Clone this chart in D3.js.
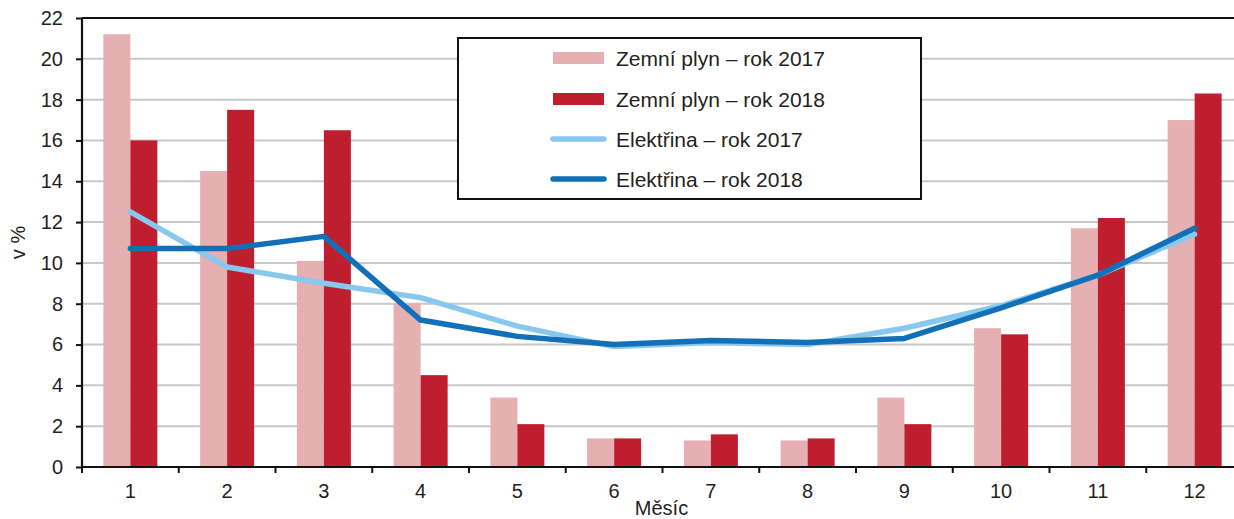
<!DOCTYPE html>
<html><head><meta charset="utf-8">
<script src="https://cdn.jsdelivr.net/npm/d3@7"></script>
<style>
html,body{margin:0;padding:0;background:#fff;}
svg{display:block;font-family:"Liberation Sans",Arial,sans-serif;}
</style></head>
<body>
<svg id="chart" width="1234" height="519"></svg>
<script>
const months = ["1","2","3","4","5","6","7","8","9","10","11","12"];
const gas2017 = [21.2,14.5,10.1,8.0,3.4,1.4,1.3,1.3,3.4,6.8,11.7,17.0];
const gas2018 = [16.0,17.5,16.5,4.5,2.1,1.4,1.6,1.4,2.1,6.5,12.2,18.3];
const elec2017 = [12.5,9.8,9.0,8.3,6.9,5.9,6.1,6.0,6.8,7.9,9.4,11.4];
const elec2018 = [10.7,10.7,11.3,7.2,6.4,6.0,6.2,6.1,6.3,7.8,9.4,11.7];
const yTicks = [0,2,4,6,8,10,12,14,16,18,20,22];
const legendLabels = ["Zemní plyn – rok 2017","Zemní plyn – rok 2018","Elektřina – rok 2017","Elektřina – rok 2018"];
const xTitle = "Měsíc";
const yTitle = "v %";

const colors = {g17:"#e6afb2", g18:"#be1e2d", e17:"#88c8ee", e18:"#1170b8"};
const svg = d3.select("#chart");
const L = 82, R = 1243, T = 18, B = 467;

const x0 = d3.scaleBand().domain(months).range([L, R]).padding(0);
const groupW = 54;
const x1 = d3.scaleBand().domain(["g17","g18"]).range([0, groupW]).padding(0);
const y = d3.scaleLinear().domain([0, 22]).range([B, T]);

// gridlines
svg.append("g").selectAll("line").data(yTicks.filter(d => d > 0 && d < 22)).join("line")
  .attr("x1", L).attr("x2", 1234).attr("y1", d => y(d)).attr("y2", d => y(d))
  .attr("stroke", "#c8c8c8").attr("stroke-width", 2);

// bars
const gx = m => x0(m) + (x0.bandwidth() - groupW) / 2;
const barData = [];
months.forEach((m, i) => {
  barData.push({m, s:"g17", v: gas2017[i]});
  barData.push({m, s:"g18", v: gas2018[i]});
});
svg.append("g").selectAll("rect").data(barData).join("rect")
  .attr("x", d => gx(d.m) + x1(d.s))
  .attr("width", x1.bandwidth())
  .attr("y", d => y(d.v))
  .attr("height", d => y(0) - y(d.v))
  .attr("fill", d => colors[d.s]);

// lines
const line = d3.line().x((d, i) => x0(months[i]) + x0.bandwidth() / 2).y(d => y(d));
svg.append("path").datum(elec2017).attr("d", line).attr("fill", "none")
  .attr("stroke", colors.e17).attr("stroke-width", 5.5).attr("stroke-linecap", "round").attr("stroke-linejoin", "round");
svg.append("path").datum(elec2018).attr("d", line).attr("fill", "none")
  .attr("stroke", colors.e18).attr("stroke-width", 5.5).attr("stroke-linecap", "round").attr("stroke-linejoin", "round");

// top border
svg.append("line").attr("x1", L).attr("x2", 1234).attr("y1", T).attr("y2", T)
  .attr("stroke", "#111").attr("stroke-width", 2);

// y axis
const yAxis = svg.append("g").attr("transform", `translate(${L},0)`)
  .call(d3.axisLeft(y).tickValues(yTicks).tickSize(6).tickPadding(10).tickFormat(d3.format("d")));
yAxis.select(".domain").attr("stroke", "#111").attr("stroke-width", 2.2).attr("d", `M0,${T}V${B}`);
yAxis.selectAll(".tick line").attr("stroke", "#111").attr("stroke-width", 2);
yAxis.selectAll("text").attr("font-size", 20).attr("fill", "#231f20").attr("font-family", "Liberation Sans, Arial, sans-serif").attr("dx", -3);

// x axis
const xAxis = svg.append("g").attr("transform", `translate(0,${B})`)
  .call(d3.axisBottom(x0).tickSize(0).tickPadding(17));
xAxis.select(".domain").attr("stroke", "#111").attr("stroke-width", 2.2).attr("d", `M${L},0H1234`);
xAxis.selectAll("text").attr("font-size", 20).attr("fill", "#231f20").attr("font-family", "Liberation Sans, Arial, sans-serif");
// boundary ticks
svg.append("g").selectAll("line").data(months).join("line")
  .attr("x1", d => x0(d)).attr("x2", d => x0(d))
  .attr("y1", B).attr("y2", B + 6).attr("stroke", "#111").attr("stroke-width", 2);

// axis titles
svg.append("text").attr("x", (L + R) / 2 - 1).attr("y", 515).attr("text-anchor", "middle")
  .attr("font-size", 20).attr("fill", "#231f20").text(xTitle);
svg.append("text").attr("transform", `translate(25,${(T + B) / 2}) rotate(-90)`).attr("text-anchor", "middle")
  .attr("font-size", 20).attr("fill", "#231f20").text(yTitle);

// legend
const lg = svg.append("g");
lg.append("rect").attr("x", 458).attr("y", 38).attr("width", 463).attr("height", 161)
  .attr("fill", "#fff").attr("stroke", "#111").attr("stroke-width", 2);
const rowsY = [58, 99, 139, 179];
const keys = ["g17","g18","e17","e18"];
keys.forEach((k, i) => {
  if (k[0] === "g") {
    lg.append("rect").attr("x", 553).attr("y", rowsY[i] - 6).attr("width", 51).attr("height", 12).attr("fill", colors[k]);
  } else {
    lg.append("line").attr("x1", 553).attr("x2", 604).attr("y1", rowsY[i]).attr("y2", rowsY[i])
      .attr("stroke", colors[k]).attr("stroke-width", 5.5).attr("stroke-linecap", "round");
  }
  lg.append("text").attr("x", 616).attr("y", rowsY[i] + 7.5).attr("font-size", 21)
    .attr("fill", "#231f20").text(legendLabels[i]);
});
</script>
</body></html>
